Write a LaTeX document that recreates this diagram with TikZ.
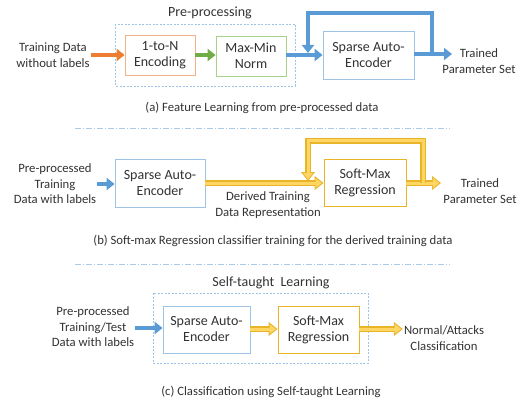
\documentclass[tikz,border=0pt]{standalone}
\usepackage{fontspec}
\setmainfont{Carlito}
\usetikzlibrary{arrows.meta}
\definecolor{txt}{RGB}{50,50,50}
\definecolor{orA}{RGB}{237,125,49}
\definecolor{orB}{RGB}{244,177,131}
\definecolor{grA}{RGB}{112,173,71}
\definecolor{grB}{RGB}{169,209,142}
\definecolor{blA}{RGB}{91,155,213}
\definecolor{blB}{RGB}{157,195,230}
\definecolor{ylA}{RGB}{255,214,100}
\definecolor{ylB}{RGB}{232,180,40}
\definecolor{sepc}{RGB}{170,200,232}
\tikzset{
  box/.style={draw, line width=0.8pt, fill=white, align=center, font=\fontsize{14}{16}\selectfont, text=txt},
  lbl/.style={align=center, font=\fontsize{12.7}{15.5}\selectfont, text=txt, inner sep=1pt},
  ttl/.style={font=\fontsize{14}{16}\selectfont, text=txt},
  captxt/.style={font=\fontsize{12.7}{15}\selectfont, text=txt},
  blk/.style={line width=4pt, line join=miter, -{Triangle[length=8pt,width=12pt]}},
  yout/.style={draw=ylB, line width=5.4pt, line join=miter, -{Triangle[length=9pt,width=13.5pt]}},
  yin/.style={draw=ylA, line width=3pt, line join=miter, shorten >=1.6pt, -{Triangle[length=6.5pt,width=9.5pt]}},
  dbox/.style={draw=blB, line width=0.8pt, dash pattern=on 2pt off 1.5pt},
  sepline/.style={draw=sepc, line width=0.8pt, dash pattern=on 6pt off 2pt on 1pt off 2pt},
}
\begin{document}
\begin{tikzpicture}[x=1pt,y=-1pt]
\useasboundingbox (0,0) rectangle (522,401);
% ---------- (a)
\node[ttl] (tA) at (210,13) {Pre-processing};
\draw[dbox] (115,24) rectangle (295,86);
\node[lbl] (inA) at (53,55) {Training Data\\without labels};
\node[box, draw=orB, minimum width=70pt, minimum height=40pt] (enc) at (160,55.5) {1-to-N\\Encoding};
\node[box, draw=grB, minimum width=70pt, minimum height=40pt] (norm) at (251,56) {Max-Min\\Norm};
\node[box, draw=blB, minimum width=91pt, minimum height=48pt] (saeA) at (368.5,55) {Sparse Auto-\\Encoder};
\node[lbl] (outA) at (479,61) {Trained\\Parameter Set};
\node[captxt] (capA) at (262,108) {(a) Feature Learning from pre-processed data};
\coordinate (aEnd) at (452,54);
\coordinate (aL1) at (432,54);
\coordinate (aL2) at (432,13);
\coordinate (aL3) at (308,13);
\coordinate (aL4) at (308,53);
\draw[blk, orA] (inA.east |- 0,55) -- (enc.west |- 0,55);
\draw[blk, grA] (enc.east |- 0,55) -- (norm.west |- 0,55);
\draw[blk, blA] (norm.east |- 0,55) -- (saeA.west |- 0,55);
\draw[blk, blA] (saeA.east |- aEnd) -- (aEnd);
\draw[blk, blA] (aL1) -- (aL2) -- (aL3) -- (aL4);
\draw[sepline] (75,128) -- (450,128);
% ---------- (b)
\node[lbl] (inB) at (55,184) {Pre-processed\\Training\\Data with labels};
\node[box, draw=blB, minimum width=90pt, minimum height=48pt] (saeB) at (160,183) {Sparse Auto-\\Encoder};
\node[box, draw=ylB, minimum width=82pt, minimum height=47pt] (smB) at (365,183) {Soft-Max\\Regression};
\node[lbl] (derB) at (268,205) {Derived Training\\Data Representation};
\node[lbl] (outB) at (480,191) {Trained\\Parameter Set};
\node[captxt] (capB) at (273,241) {(b) Soft-max Regression classifier training for the derived training data};
\coordinate (bEnd) at (441,183);
\coordinate (bL1) at (423,183);
\coordinate (bL2) at (423,141);
\coordinate (bL3) at (308,141);
\coordinate (bL4) at (308,181);
\draw[blk, blA] (inB.east |- 0,184) -- (saeB.west |- 0,184);
\draw[yout] (saeB.east |- 0,183) -- (smB.west |- 0,183);
\draw[yin] (saeB.east |- 0,183) -- (smB.west |- 0,183);
\draw[yout] (smB.east |- bEnd) -- (bEnd);
\draw[yin] (smB.east |- bEnd) -- (bEnd);
\draw[yout] (bL1) -- (bL2) -- (bL3) -- (bL4);
\draw[yin] (bL1) -- (bL2) -- (bL3) -- (bL4);
\draw[sepline] (75,264) -- (450,264);
% ---------- (c)
\node[ttl] (tC) at (271,283) {Self-taught\ \ Learning};
\draw[dbox] (153,293) rectangle (368,363);
\node[lbl] (inC) at (93,327) {Pre-processed\\Training/Test\\Data with labels};
\node[box, draw=blB, minimum width=87pt, minimum height=47pt] (saeC) at (206.5,329.5) {Sparse Auto-\\Encoder};
\node[box, draw=ylB, minimum width=81pt, minimum height=47pt] (smC) at (318.5,329.5) {Soft-Max\\Regression};
\node[lbl] (outC) at (444,338) {Normal/Attacks\\Classification};
\node[captxt] (capC) at (271,392) {(c) Classification using Self-taught Learning};
\draw[blk, blA] (inC.east |- 0,328) -- (saeC.west |- 0,328);
\draw[yout] (saeC.east |- 0,329) -- (smC.west |- 0,329);
\draw[yin] (saeC.east |- 0,329) -- (smC.west |- 0,329);
\draw[yout] (smC.east |- 0,329) -- (outC.west |- 0,329);
\draw[yin] (smC.east |- 0,329) -- (outC.west |- 0,329);
\end{tikzpicture}
\end{document}
